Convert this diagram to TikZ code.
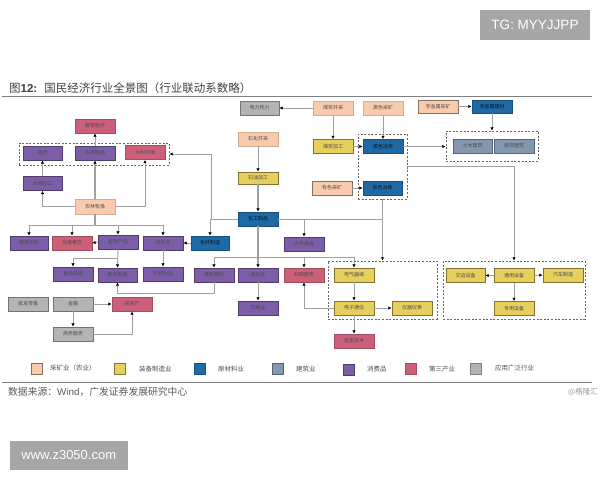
\documentclass[tikz,border=0pt]{standalone}
\usepackage{fontspec}
\setmainfont{Noto Sans CJK SC}
\newfontfamily\latinf{Liberation Sans}
\usetikzlibrary{arrows.meta}
\definecolor{cpeach}{HTML}{F8CBAD}
\definecolor{cyellow}{HTML}{E6CF5C}
\definecolor{cblue}{HTML}{1F6AA5}
\definecolor{cslate}{HTML}{8497B0}
\definecolor{cpurple}{HTML}{7B5EA7}
\definecolor{cpink}{HTML}{CC6078}
\definecolor{cgray}{HTML}{B4B4B4}
\definecolor{cline}{HTML}{A0A0A0}
\tikzset{
  bx/.style={rectangle,minimum width=40pt,minimum height=14pt,inner sep=0pt,line width=0.8pt,font=\fontsize{5}{6}\selectfont,text=black!70},
  peach/.style={bx,fill=cpeach,draw=cpeach!85!black},
  yellow/.style={bx,fill=cyellow,draw=cyellow!55!black},
  blue/.style={bx,fill=cblue,draw=cblue!75!black,text=black!80!cblue},
  slate/.style={bx,fill=cslate,draw=cslate!65!black},
  purple/.style={bx,fill=cpurple,draw=cpurple!65!black},
  pink/.style={bx,fill=cpink,draw=cpink!80!black},
  graybx/.style={bx,fill=cgray,draw=black!55},
  grp/.style={rectangle,draw=black!60,dashed,dash pattern=on 2pt off 1.6pt,line width=0.8pt,inner sep=0pt},
  conn/.style={draw=cline,line width=0.9pt,-{Latex[black,length=3.2pt,width=3.4pt]}},
  trunk/.style={conn,line width=1.3pt},
  plain/.style={draw=cline,line width=0.9pt},
  swatch/.style={rectangle,minimum width=11pt,minimum height=11pt,inner sep=0pt,line width=0.8pt},
  legtxt/.style={anchor=west,inner sep=0pt,font=\fontsize{6.5}{8}\selectfont,text=black!70},
  banner/.style={rectangle,fill=black!35,inner sep=0pt,text=white},
  rulel/.style={draw=black!50,line width=0.9pt}
}
\begin{document}
\begin{tikzpicture}[x=1pt,y=-1pt]
\useasboundingbox (0,0) rectangle (600,480);
% banners
\node[banner,minimum width=110pt,minimum height=30pt,font=\fontsize{13.5}{15}\selectfont\latinf] (tg) at (535,25) {TG: MYYJJPP};
\node[banner,minimum width=117.5pt,minimum height=29pt,font=\fontsize{13}{15}\selectfont\latinf] (www) at (68.8,455.5) {www.z3050.com};
% title
\node[anchor=west,inner sep=0pt,font=\fontsize{11.5}{13}\selectfont,text=black!75] (title) at (9,88) {图\textbf{\latinf 12:}\hspace{7pt}国民经济行业全景图（行业联动系数略）};
\coordinate (rtl) at (2,96); \coordinate (rtr) at (592,96);
\draw[rulel] (rtl) -- (rtr);
% dashed groups
\node[grp,minimum width=150pt,minimum height=22pt] (grpA) at (94,154) {};
\node[grp,minimum width=49pt,minimum height=65pt] (grpB) at (382.5,166.5) {};
\node[grp,minimum width=109pt,minimum height=58pt] (grpC) at (382.5,290) {};
\node[grp,minimum width=142pt,minimum height=58pt] (grpD) at (514,290) {};
\node[grp,minimum width=92pt,minimum height=30pt] (grpE) at (492,146) {};
% top-left
\node[pink] (edu) at (95,126) {教育医疗};
\node[purple,minimum width=39pt] (zao) at (42.5,153) {造纸};
\node[purple] (pige) at (95,153) {皮革制品};
\node[pink] (shui) at (145,152.5) {水利环境};
\node[purple,minimum width=39pt] (wood) at (42.5,183.5) {木材加工};
\node[peach,minimum height=15pt] (nong) at (95,206.5) {农林牧渔};
% row 1
\node[purple,minimum width=38pt] (jiu) at (29,243) {酒类饮料};
\node[pink] (zhu) at (72,243) {住宿餐饮};
\node[purple] (xu) at (118,242) {畜牧产品};
\node[purple] (fang) at (163,243) {纺织业};
\node[blue,minimum width=38pt] (xian) at (210,243) {化纤制造};
\node[blue] (hua) at (258,219) {化工制品};
\node[purple] (dj) at (304,244) {大件用品};
% row 2
\node[purple] (shipin) at (73,274) {食品制造};
\node[purple,minimum width=39pt] (yiyao) at (117.5,275) {医药制造};
\node[purple] (fz) at (163,274) {纺织制品};
\node[purple] (rub) at (214,275) {橡胶塑料};
\node[purple] (zz) at (258,275) {造纸业};
\node[purple] (print) at (258,308) {印刷业};
\node[pink] (ky) at (304,275) {科研服务};
% bottom-left
\node[graybx] (pf) at (28,304) {批发零售};
\node[graybx] (jr) at (73,304) {金融};
\node[pink] (fdc) at (132,304) {房地产};
\node[graybx] (sw) at (73,334) {商务服务};
% top middle
\node[graybx,minimum width=39pt] (power) at (259.5,108) {电力热力};
\node[peach] (shk) at (258,139) {石化开采};
\node[yellow,minimum height=12pt] (syj) at (258,178) {石油加工};
\node[peach] (mk) at (333,108) {煤炭开采};
\node[peach] (hk) at (383,108) {黑色采矿};
\node[peach,draw=cpeach!55!black,minimum height=13pt] (fk) at (438,106.5) {非金属采矿};
\node[blue,minimum height=13pt] (fjc) at (492,106.5) {非金属建材};
\node[yellow] (mj) at (333,146.5) {煤炭加工};
\node[blue] (hy) at (383,146.5) {黑色冶炼};
\node[peach,draw=cpeach!55!black] (yk) at (332,188) {有色采矿};
\node[blue,minimum width=39pt] (yy) at (382.5,188) {有色冶炼};
\node[slate,minimum width=39pt] (tm) at (472.5,146) {土木建筑};
\node[slate] (zs) at (514,146) {装饰建筑};
% electronics
\node[yellow] (dq) at (354,275) {电气器械};
\node[yellow] (dz) at (354,308) {电子通信};
\node[yellow] (yq) at (412,308) {仪器仪表};
\node[pink] (xx) at (354,341) {信息技术};
% equipment
\node[yellow,minimum width=39pt] (jy) at (465.5,275.5) {交运设备};
\node[yellow] (ty) at (514,275.5) {通用设备};
\node[yellow] (qc) at (563,275) {汽车制造};
\node[yellow] (zy) at (514,308.5) {专用设备};
% connectors - top
\draw[conn] (mk.west) -- (power.east);
\draw[conn] (mk.south) -- (mj.north);
\draw[conn] (hk.south) -- (hy.north);
\draw[conn] (mj.east) -- (hy.west);
\draw[conn] (yk.east) -- (yy.west);
\draw[conn] (fk.east) -- (fjc.west);
\draw[conn] (fjc.south) -- (grpE.north);
\draw[conn] (hy.east) -- (grpE.west |- hy.east);
\draw[conn] (grpB.east) -| (grpD.north);
\draw[conn] (grpB.south) -- (grpC.north);
\draw[conn] (shk.south) -- (syj.north);
\draw[trunk] (syj.south) -- (hua.north);
% chemical
\coordinate (j3) at (382.5,219);
\coordinate (j4) at (304,219);
\coordinate (j5) at (211,219);
\coordinate (j2) at (258,257);
\draw[plain] (hua.east) -- (j3);
\draw[conn] (j4) -- (dj.north);
\draw[conn] (hua.west) -| (xian.north);
\draw[conn] (j5) |- (grpA.east);
\draw[trunk] (hua.south) -- (zz.north);
\draw[conn] (zz.south) -- (print.north);
\draw[conn] (j2) -| (rub.north);
\draw[conn] (j2) -| (dq.north);
\draw[conn] (ky.north |- j2) -- (ky.north);
\draw[conn] (xian.west) -- (fang.east);
\draw[conn] (fang.south) -- (fz.north);
\draw[conn] (rub.south) -- ++(0,11) -| (yiyao.south);
% agriculture
\coordinate (j1) at (95,225);
\draw[plain,line width=1.3pt] (nong.south) -- (j1);
\draw[conn] (j1) -| (jiu.north);
\draw[conn] (j1) -| (zhu.north);
\draw[conn] (j1) -| (xu.north);
\draw[conn] (j1) -| (fang.north);
\draw[trunk] (nong.north) -- (pige.south);
\draw[conn] (pige.north) -- (edu.south);
\draw[conn] (nong.west) -| (wood.south);
\draw[conn] (wood.north) -- (zao.south);
\draw[conn] (nong.east) -| (shui.south);
\draw[conn] (xu.west) -- (zhu.east);
\draw[conn] (xu.south) -- (yiyao.north);
\coordinate (j6) at (118,258);
\draw[conn] (j6) -| (shipin.north);
% finance
\draw[conn] (jr.east) -- (fdc.west);
\draw[conn] (jr.south) -- (sw.north);
\draw[conn] (sw.east) -| (fdc.south);
% electronics
\draw[conn] (dq.south) -- (dz.north);
\draw[conn] (dz.east) -- (yq.west);
\draw[conn] (dz.south) -- (xx.north);
\draw[conn] (dz.west) -| (ky.south);
% equipment
\draw[conn] (ty.west) -- (jy.east);
\draw[conn] (ty.east) -- (qc.west);
\draw[conn] (ty.south) -- (zy.north);
% legend
\node[swatch,fill=cpeach,draw=cpeach!55!black] (s1) at (37,368.5) {};
\node[legtxt] (t1) at (50,368) {采矿业（农业）};
\node[swatch,fill=cyellow,draw=cyellow!55!black] (s2) at (120,369) {};
\node[legtxt] (t2) at (139,369) {装备制造业};
\node[swatch,fill=cblue,draw=cblue!75!black] (s3) at (200,369) {};
\node[legtxt] (t3) at (218,369) {原材料业};
\node[swatch,fill=cslate,draw=cslate!65!black] (s4) at (277.5,369) {};
\node[legtxt] (t4) at (296,369) {建筑业};
\node[swatch,fill=cpurple,draw=cpurple!65!black] (s5) at (349,369.5) {};
\node[legtxt] (t5) at (367,369.5) {消费品};
\node[swatch,fill=cpink,draw=cpink!80!black] (s6) at (411,369) {};
\node[legtxt] (t6) at (429,369) {第三产业};
\node[swatch,fill=cgray,draw=black!50] (s7) at (476,368.5) {};
\node[legtxt] (t7) at (495,368) {应用广泛行业};
% footer
\coordinate (rbl) at (2,382); \coordinate (rbr) at (592,382);
\draw[rulel] (rbl) -- (rbr);
\node[anchor=west,inner sep=0pt,font=\fontsize{9.8}{11}\selectfont,text=black!65] (src) at (8,391.5) {数据来源：{\latinf Wind}，广发证券发展研究中心};
\node[anchor=east,inner sep=0pt,font=\fontsize{7.5}{9}\selectfont,text=black!40] (glh) at (598,391.5) {@格隆汇};
\end{tikzpicture}
\end{document}
